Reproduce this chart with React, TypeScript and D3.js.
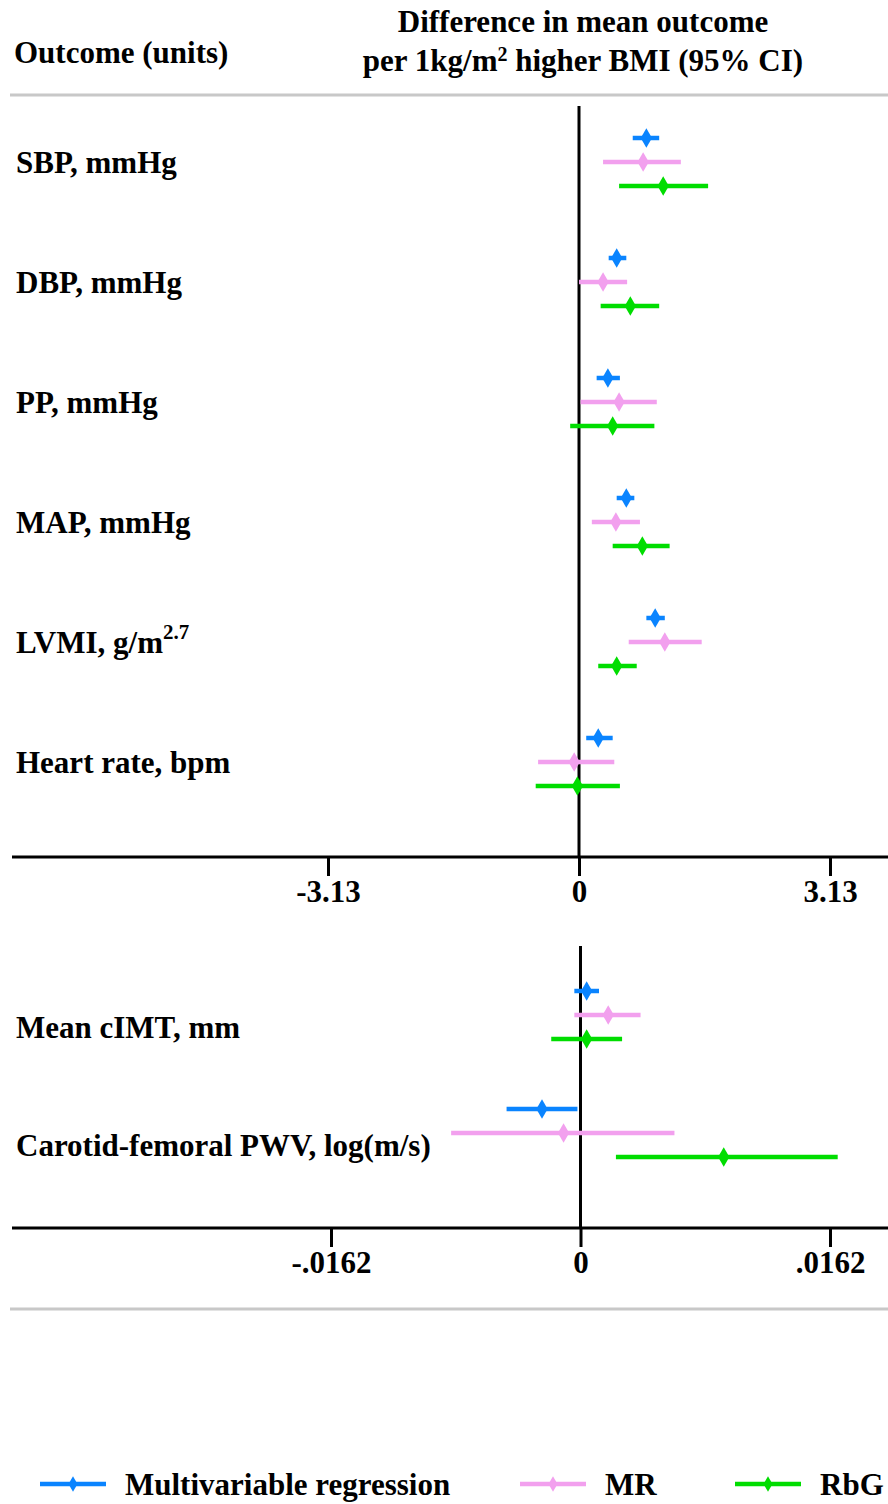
import React, { useEffect, useRef } from 'react';
import * as d3 from 'd3';

// outcome rows, top panel (blood pressure, LV mass, heart rate)
const topOutcomes = ['SBP', 'DBP', 'PP', 'MAP', 'LVMI', 'HR'];
// bottom panel (vascular)
const bottomOutcomes = ['cIMT', 'PWV'];

const methods = ['Multivariable regression', 'MR', 'RbG'];
const methodColors = ['#0a84ff', '#f2a0ee', '#00dd00'];

// estimate, lower, upper per outcome (order follows topOutcomes / bottomOutcomes)
const mvTop = [
  [0.84, 0.67, 1.0],
  [0.47, 0.37, 0.59],
  [0.36, 0.22, 0.51],
  [0.59, 0.47, 0.69],
  [0.95, 0.84, 1.07],
  [0.24, 0.09, 0.42],
];
const mrTop = [
  [0.8, 0.3, 1.27],
  [0.3, 0.0, 0.6],
  [0.5, 0.02, 0.97],
  [0.46, 0.16, 0.76],
  [1.07, 0.62, 1.53],
  [-0.06, -0.51, 0.44],
];
const rbgTop = [
  [1.05, 0.5, 1.61],
  [0.64, 0.27, 1.0],
  [0.42, -0.11, 0.94],
  [0.79, 0.42, 1.13],
  [0.47, 0.24, 0.72],
  [-0.02, -0.54, 0.51],
];
const mvBottom = [
  [0.0004, -0.0004, 0.0012],
  [-0.0025, -0.0048, -0.0002],
];
const mrBottom = [
  [0.0018, -0.0004, 0.0039],
  [-0.0011, -0.0084, 0.0061],
];
const rbgBottom = [
  [0.0004, -0.0019, 0.0027],
  [0.0093, 0.0023, 0.0167],
];

const topTicks = [-3.13, 0, 3.13];
const topTickLabels = ['-3.13', '0', '3.13'];
const bottomTicks = [-0.0162, 0, 0.0162];
const bottomTickLabels = ['-.0162', '0', '.0162'];

const FONT = '"Liberation Serif", "Times New Roman", serif';

function App() {
  const ref = useRef<SVGSVGElement>(null);

  useEffect(() => {
    const svg = d3.select(ref.current);
    svg.selectAll('*').remove();
    const width = 888;

    const txt = (x: number, y: number, s: string, anchor = 'start') =>
      svg
        .append('text')
        .attr('x', x)
        .attr('y', y)
        .attr('text-anchor', anchor)
        .attr('font-family', FONT)
        .attr('font-weight', 'bold')
        .attr('font-size', 31)
        .attr('fill', '#000')
        .text(s);

    // header
    txt(14, 63, 'Outcome (units)');
    txt(583, 32, 'Difference in mean outcome', 'middle');
    const h2 = txt(583, 71, 'per 1kg/m', 'middle');
    h2.append('tspan').attr('font-size', 20).attr('dy', -10).text('2');
    h2.append('tspan').attr('dy', 10).text(' higher BMI (95% CI)');

    const sep = (y: number) =>
      svg
        .append('line')
        .attr('x1', 10)
        .attr('x2', width)
        .attr('y1', y)
        .attr('y2', y)
        .attr('stroke', '#c8c8c8')
        .attr('stroke-width', 3);
    sep(95);
    sep(1309);

    const drawPanel = (opts: {
      outcomes: string[];
      labels: (string | [string, string])[];
      series: number[][][];
      domain: [number, number];
      ticks: number[];
      tickLabels: string[];
      xRange: [number, number];
      yRange: [number, number];
      top: number;
      axisY: number;
      labelDy: number;
    }) => {
      const x = d3.scaleLinear().domain(opts.domain).range(opts.xRange);
      const y = d3.scalePoint().domain(opts.outcomes).range(opts.yRange);
      const off = d3.scalePoint().domain(methods).range([-24, 24]);
      const g = svg.append('g');

      // zero line
      g.append('line')
        .attr('x1', x(0))
        .attr('x2', x(0))
        .attr('y1', opts.top)
        .attr('y2', opts.axisY)
        .attr('stroke', '#000')
        .attr('stroke-width', 3);

      // axis
      g.append('line')
        .attr('x1', 12)
        .attr('x2', width)
        .attr('y1', opts.axisY)
        .attr('y2', opts.axisY)
        .attr('stroke', '#000')
        .attr('stroke-width', 3);
      const ax = g
        .append('g')
        .attr('transform', `translate(0,${opts.axisY})`)
        .call(
          d3
            .axisBottom(x)
            .tickValues(opts.ticks)
            .tickSize(19)
            .tickPadding(4)
            .tickFormat((d, i) => opts.tickLabels[i]),
        );
      ax.select('.domain').remove();
      ax.selectAll('.tick line').attr('stroke', '#000').attr('stroke-width', 3);
      ax.selectAll('.tick text')
        .attr('font-family', FONT)
        .attr('font-weight', 'bold')
        .attr('font-size', 31)
        .attr('fill', '#000');

      // row labels
      opts.outcomes.forEach((o, i) => {
        const lab = opts.labels[i];
        const yy = (y(o) as number) + opts.labelDy;
        if (Array.isArray(lab)) {
          const t = txt(16, yy, lab[0]);
          t.append('tspan').attr('font-size', 21).attr('dy', -14).text(lab[1]);
        } else {
          txt(16, yy, lab);
        }
      });

      // estimates
      methods.forEach((m, si) => {
        const rows = opts.series[si];
        const color = methodColors[si];
        const sg = g.append('g');
        sg.selectAll('line')
          .data(rows)
          .join('line')
          .attr('x1', d => x(d[1]))
          .attr('x2', d => x(d[2]))
          .attr('y1', (d, i) => (y(opts.outcomes[i]) as number) + (off(m) as number))
          .attr('y2', (d, i) => (y(opts.outcomes[i]) as number) + (off(m) as number))
          .attr('stroke', color)
          .attr('stroke-width', 4.5);
        sg.selectAll('path')
          .data(rows)
          .join('path')
          .attr(
            'transform',
            (d, i) =>
              `translate(${x(d[0])},${(y(opts.outcomes[i]) as number) + (off(m) as number)})`,
          )
          .attr('d', d3.symbol(d3.symbolDiamond, 110)())
          .attr('fill', color);
      });
    };

    drawPanel({
      outcomes: topOutcomes,
      labels: [
        'SBP, mmHg',
        'DBP, mmHg',
        'PP, mmHg',
        'MAP, mmHg',
        ['LVMI, g/m', '2.7'],
        'Heart rate, bpm',
      ],
      series: [mvTop, mrTop, rbgTop],
      domain: [topTicks[0], topTicks[2]],
      ticks: topTicks,
      tickLabels: topTickLabels,
      xRange: [328, 830],
      yRange: [162, 762],
      top: 106,
      axisY: 857,
      labelDy: 11,
    });

    drawPanel({
      outcomes: bottomOutcomes,
      labels: ['Mean cIMT, mm', 'Carotid-femoral PWV, log(m/s)'],
      series: [mvBottom, mrBottom, rbgBottom],
      domain: [bottomTicks[0], bottomTicks[2]],
      ticks: bottomTicks,
      tickLabels: bottomTickLabels,
      xRange: [331, 830],
      yRange: [1015, 1133],
      top: 946,
      axisY: 1228,
      labelDy: 23,
    });

    // legend
    const lx = d3.scaleOrdinal<string, number>().domain(methods).range([40, 520, 735]);
    const legendY = 1484;
    methods.forEach((m, i) => {
      const x0 = lx(m);
      svg
        .append('line')
        .attr('x1', x0)
        .attr('x2', x0 + 66)
        .attr('y1', legendY)
        .attr('y2', legendY)
        .attr('stroke', methodColors[i])
        .attr('stroke-width', 4.5);
      svg
        .append('path')
        .attr('transform', `translate(${x0 + 33},${legendY})`)
        .attr('d', d3.symbol(d3.symbolDiamond, 70)())
        .attr('fill', methodColors[i]);
      txt(x0 + 85, legendY + 11, m);
    });
  }, []);

  return (
    <svg
      ref={ref}
      width={888}
      height={1504}
      style={{ position: 'absolute', left: 0, top: 0, background: '#fff' }}
    />
  );
}

export default App;
